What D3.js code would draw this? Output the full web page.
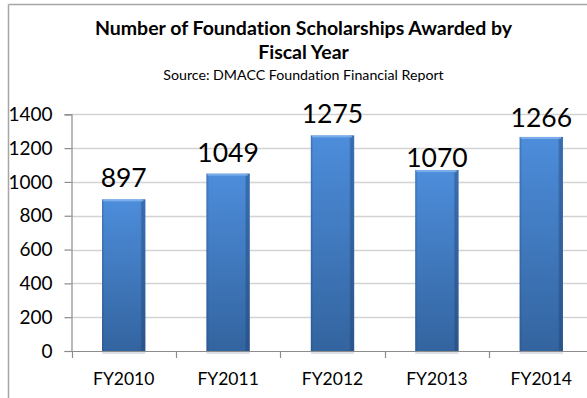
<!DOCTYPE html>
<html>
<head>
<meta charset="utf-8">
<script src="https://cdn.jsdelivr.net/npm/d3@7/dist/d3.min.js"></script>
<style>
  html, body { margin: 0; padding: 0; background: #fff; }
  svg { display: block; font-family: Lato, "Open Sans", sans-serif; font-variant-ligatures: none; }
</style>
</head>
<body>
<svg id="chart" width="587" height="398"></svg>
<script>
// Scholarships awarded per fiscal year
const categories = ["FY2010", "FY2011", "FY2012", "FY2013", "FY2014"];
const awards = [897, 1049, 1275, 1070, 1266];
const yTicks = [0, 200, 400, 600, 800, 1000, 1200, 1400];

const titleLines = ["Number of Foundation Scholarships Awarded by", "Fiscal Year"];
const subtitle = "Source: DMACC Foundation Financial Report";

const svg = d3.select("#chart");
const W = 587, H = 398;

const plot = { left: 71.5, right: 593.5, top: 114.3, bottom: 351 };

const x = d3.scaleBand().domain(categories).range([plot.left, plot.right]).padding(0);
const y = d3.scaleLinear().domain([0, 1400]).range([plot.bottom, plot.top]);
const barW = x.bandwidth() * 0.415;

// gradients for the bars
const defs = svg.append("defs");
const vg = defs.append("linearGradient").attr("id", "barFill").attr("x1", 0).attr("y1", 0).attr("x2", 0).attr("y2", 1);
vg.append("stop").attr("offset", "0%").attr("stop-color", "#4d8ddb");
vg.append("stop").attr("offset", "100%").attr("stop-color", "#33649f");
const hg = defs.append("linearGradient").attr("id", "barEdge").attr("x1", 0).attr("y1", 0).attr("x2", 1).attr("y2", 0);
hg.append("stop").attr("offset", "0%").attr("stop-color", "#1d3f6e").attr("stop-opacity", 0.35);
hg.append("stop").attr("offset", "6%").attr("stop-color", "#1d3f6e").attr("stop-opacity", 0);
hg.append("stop").attr("offset", "88%").attr("stop-color", "#1d3f6e").attr("stop-opacity", 0);
hg.append("stop").attr("offset", "93%").attr("stop-color", "#1d3f6e").attr("stop-opacity", 0.45);
hg.append("stop").attr("offset", "100%").attr("stop-color", "#1d3f6e").attr("stop-opacity", 0.35);

// chart frame (top and left edges visible)
svg.append("line").attr("x1", 8.5).attr("x2", W).attr("y1", 4.5).attr("y2", 4.5)
  .attr("stroke", "#a6a6a6").attr("stroke-width", 1.5);
svg.append("line").attr("x1", 8.5).attr("x2", 8.5).attr("y1", 4.5).attr("y2", H)
  .attr("stroke", "#a6a6a6").attr("stroke-width", 1.5);

// title block
const cx = 303.5;
svg.append("text").attr("x", cx).attr("y", 35).attr("text-anchor", "middle")
  .attr("font-weight", "bold").attr("font-size", 19.5).attr("fill", "#000").text(titleLines[0]);
svg.append("text").attr("x", cx).attr("y", 58.5).attr("text-anchor", "middle")
  .attr("font-weight", "bold").attr("font-size", 19.5).attr("fill", "#000").text(titleLines[1]);
svg.append("text").attr("x", cx).attr("y", 80).attr("text-anchor", "middle")
  .attr("font-size", 14.2).attr("fill", "#000").text(subtitle);

// horizontal gridlines
svg.append("g").selectAll("line").data(yTicks.filter(d => d > 0)).join("line")
  .attr("x1", plot.left).attr("x2", W)
  .attr("y1", d => Math.round(y(d)) + 0.5).attr("y2", d => Math.round(y(d)) + 0.5)
  .attr("stroke", "#d3d3d3").attr("stroke-width", 1.3);

// y axis
const yAxis = d3.axisLeft(y).tickValues(yTicks).tickSize(7).tickPadding(12).tickFormat(d3.format("d"));
const gy = svg.append("g").attr("transform", `translate(${plot.left},0)`).call(yAxis);
gy.select(".domain").attr("stroke", "#8c8c8c").attr("stroke-width", 1.2);
gy.selectAll(".tick line").attr("stroke", "#8c8c8c").attr("stroke-width", 1.2);
gy.selectAll(".tick text").attr("font-family", "Lato, 'Open Sans', sans-serif")
  .attr("font-size", 19).attr("fill", "#000");

// bar shadows under the axis
svg.append("g").selectAll("rect").data(awards).join("rect")
  .attr("x", (d, i) => x(categories[i]) + x.bandwidth() / 2 - barW / 2)
  .attr("y", plot.bottom).attr("width", barW).attr("height", 3)
  .attr("fill", "#dde1e7");

// bars
const bars = svg.append("g");
categories.forEach((c, i) => {
  const bx = x(c) + x.bandwidth() / 2 - barW / 2;
  const by = y(awards[i]);
  const bh = plot.bottom - by;
  bars.append("rect").attr("x", bx).attr("y", by).attr("width", barW).attr("height", bh).attr("fill", "url(#barFill)");
  bars.append("rect").attr("x", bx).attr("y", by).attr("width", barW).attr("height", bh).attr("fill", "url(#barEdge)");
  bars.append("rect").attr("x", bx + 1).attr("y", by).attr("width", barW - 3).attr("height", 2)
    .attr("fill", "#86b6ee").attr("opacity", 0.8);
});

// x axis
const xTickPos = categories.map(c => x(c)).concat([plot.right]);
svg.append("line").attr("x1", plot.left).attr("x2", W)
  .attr("y1", plot.bottom + 0.5).attr("y2", plot.bottom + 0.5)
  .attr("stroke", "#8c8c8c").attr("stroke-width", 1.2);
svg.append("g").selectAll("line").data(xTickPos).join("line")
  .attr("x1", d => Math.round(d) + 0.5).attr("x2", d => Math.round(d) + 0.5)
  .attr("y1", plot.bottom).attr("y2", plot.bottom + 7)
  .attr("stroke", "#8c8c8c").attr("stroke-width", 1.2);
svg.append("g").selectAll("text").data(categories).join("text")
  .attr("x", d => x(d) + x.bandwidth() / 2).attr("y", 385)
  .attr("text-anchor", "middle").attr("font-size", 17.5).attr("fill", "#000")
  .text(d => d);

// value labels above the bars (a couple sit closer to their bar)
const labelNudge = { "FY2013": 9, "FY2014": 2 };
svg.append("g").selectAll("text").data(categories).join("text")
  .attr("x", d => x(d) + x.bandwidth() / 2)
  .attr("y", (d, i) => y(awards[i]) - 12 + (labelNudge[d] || 0))
  .attr("text-anchor", "middle").attr("font-size", 26.5).attr("fill", "#000")
  .text((d, i) => awards[i]);
</script>
</body>
</html>
